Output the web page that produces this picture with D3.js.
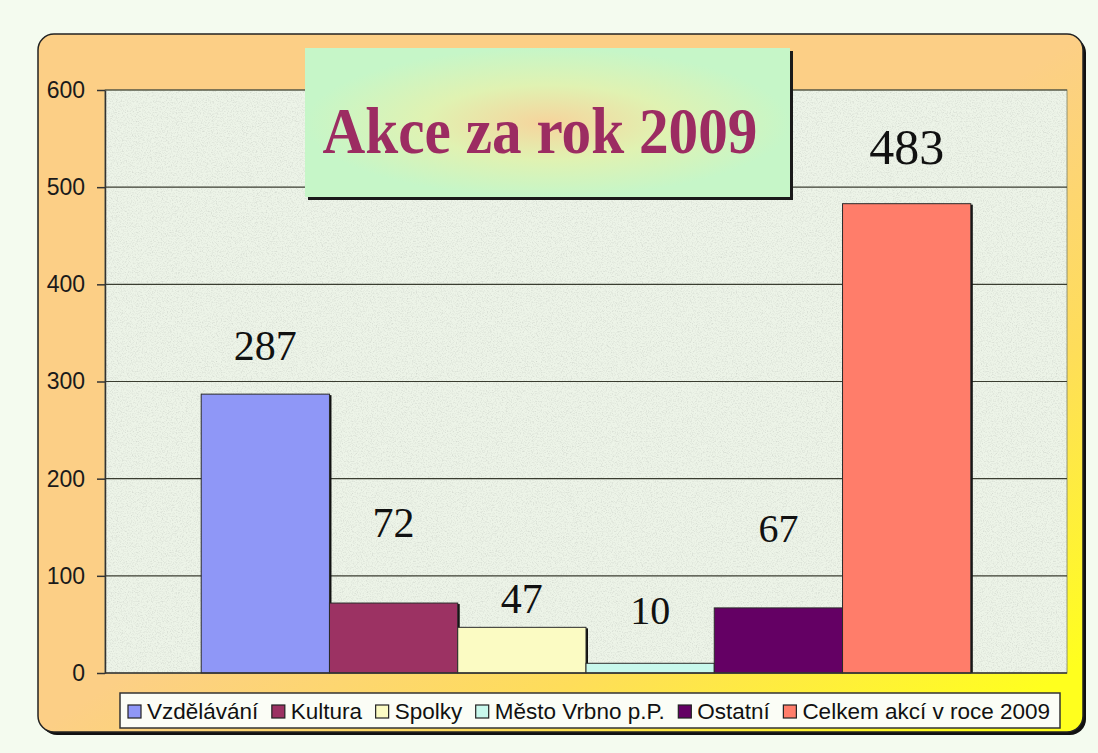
<!DOCTYPE html>
<html>
<head>
<meta charset="utf-8">
<script src="https://cdn.jsdelivr.net/npm/d3@7"></script>
<style>
  body { margin: 0; background: #f4fbef; }
  svg { display: block; }
</style>
</head>
<body>
<div id="chart"></div>
<script>
// data
var title = "Akce za rok 2009";
var categories = ["Vzdělávání", "Kultura", "Spolky", "Město Vrbno p.P.", "Ostatní", "Celkem akcí v roce 2009"];
var values = [287, 72, 47, 10, 67, 483];
var yTicks = [0, 100, 200, 300, 400, 500, 600];

var colors = ["#8f97f7", "#9c3263", "#fbfbc3", "#c8f8ec", "#640064", "#ff7d6a"];

var W = 1098, H = 753;
var plot = {left: 105, right: 1067, top: 90, bottom: 673};

var svg = d3.select("#chart").append("svg")
            .attr("width", W)
            .attr("height", H);

var defs = svg.append("defs");

// frame gradient: orange -> yellow toward bottom right
var fg = defs.append("linearGradient").attr("id", "frameGrad")
             .attr("x1", 0).attr("y1", 0).attr("x2", 1).attr("y2", 1);
fg.append("stop").attr("offset", "0.5").attr("stop-color", "#fccf86");
fg.append("stop").attr("offset", "0.72").attr("stop-color", "#fedd5a");
fg.append("stop").attr("offset", "0.95").attr("stop-color", "#ffff1e");

var tg = defs.append("radialGradient").attr("id", "titleGrad")
             .attr("cx", 0.5).attr("cy", 0.5).attr("r", 0.5);
tg.append("stop").attr("offset", "0").attr("stop-color", "#f6d49c");
tg.append("stop").attr("offset", "0.5").attr("stop-color", "#e0f2b2");
tg.append("stop").attr("offset", "1").attr("stop-color", "#c6f6c8");

// speckled paper texture for the plot area
var noise = defs.append("filter").attr("id", "noise")
                .attr("x", 0).attr("y", 0).attr("width", "100%").attr("height", "100%");
noise.append("feTurbulence").attr("type", "fractalNoise")
     .attr("baseFrequency", 0.8).attr("numOctaves", 3).attr("seed", 7);
noise.append("feColorMatrix").attr("type", "matrix")
     .attr("values", "0 0 0 0 0.6  0 0 0 0 0.64  0 0 0 0 0.58  1.6 0 0 0 -0.72");

// outer frame with shadow
svg.append("rect")
   .attr("x", 41).attr("y", 37).attr("width", 1045).attr("height", 698)
   .attr("rx", 16).attr("fill", "#111");
svg.append("rect")
   .attr("x", 38).attr("y", 34).attr("width", 1045).attr("height", 698)
   .attr("rx", 16).attr("fill", "url(#frameGrad)")
   .attr("stroke", "#222").attr("stroke-width", 1.5);

// plot area
svg.append("rect")
   .attr("x", plot.left).attr("y", plot.top)
   .attr("width", plot.right - plot.left).attr("height", plot.bottom - plot.top)
   .attr("fill", "#edf4e8")
   .attr("stroke", "#8c8f70").attr("stroke-width", 1);
svg.append("rect")
   .attr("x", plot.left).attr("y", plot.top)
   .attr("width", plot.right - plot.left).attr("height", plot.bottom - plot.top)
   .attr("filter", "url(#noise)");

var y = d3.scaleLinear()
          .domain([0, 600])
          .range([plot.bottom, plot.top]);

var x0 = d3.scaleBand()
           .domain(["2009"])
           .range([plot.left, plot.right])
           .paddingInner(0)
           .paddingOuter(0.125);

var x = d3.scaleBand()
          .domain(categories)
          .range([x0("2009"), x0("2009") + x0.bandwidth()]);

// gridlines
svg.append("g").selectAll("line")
   .data(yTicks.filter(function(d) { return d > 0; }))
   .enter()
   .append("line")
   .attr("x1", plot.left).attr("x2", plot.right)
   .attr("y1", function(d) { return y(d); })
   .attr("y2", function(d) { return y(d); })
   .attr("stroke", "#3a3d30").attr("stroke-width", 1.2);

// bars: shadows first, then bars
svg.append("g").selectAll("rect")
   .data(values)
   .enter()
   .append("rect")
   .attr("x", function(d, i) { return x(categories[i]) + 2; })
   .attr("y", function(d) { return y(d) + 1; })
   .attr("width", x.bandwidth())
   .attr("height", function(d) { return plot.bottom - y(d) - 1; })
   .attr("fill", "#111");

svg.append("g").selectAll("rect")
   .data(values)
   .enter()
   .append("rect")
   .attr("x", function(d, i) { return x(categories[i]); })
   .attr("y", function(d) { return y(d); })
   .attr("width", x.bandwidth())
   .attr("height", function(d) { return plot.bottom - y(d); })
   .attr("fill", function(d, i) { return colors[i]; })
   .attr("stroke", "#2a2a2a").attr("stroke-width", 1);

// y axis
var yAxis = d3.axisLeft(y)
              .tickValues(yTicks)
              .tickSize(8)
              .tickSizeOuter(0)
              .tickPadding(12);

var ax = svg.append("g")
            .attr("transform", "translate(" + plot.left + ",0)")
            .call(yAxis);
ax.attr("font-size", null);
ax.select(".domain").attr("stroke", "#333").attr("stroke-width", 1.5);
ax.selectAll(".tick line").attr("stroke", "#333").attr("stroke-width", 1.5);
ax.selectAll(".tick text")
  .attr("font-family", "'Liberation Sans', Arial, sans-serif")
  .attr("font-size", 23)
  .attr("fill", "#1a1a1a");

svg.append("line")
   .attr("x1", plot.left).attr("x2", plot.right)
   .attr("y1", y(0)).attr("y2", y(0))
   .attr("stroke", "#333").attr("stroke-width", 1.5);

// value labels, hand placed in the original
var labelLift = [48, 80, 28, 52, 79, 56];
var labelSize = [42, 42, 42, 40, 40, 50];
svg.append("g").selectAll("text")
   .data(values)
   .enter()
   .append("text")
   .attr("x", function(d, i) { return x(categories[i]) + x.bandwidth() / 2; })
   .attr("y", function(d, i) { return y(d) - labelLift[i] + labelSize[i] * 0.33; })
   .attr("text-anchor", "middle")
   .style("font-family", "'Liberation Serif', 'DejaVu Serif', serif")
   .style("font-size", function(d, i) { return labelSize[i] + "px"; })
   .style("font-variant-numeric", "oldstyle-nums")
   .attr("fill", "#111")
   .text(function(d) { return d; });

// title box
svg.append("rect")
   .attr("x", 308).attr("y", 51).attr("width", 485).attr("height", 149)
   .attr("fill", "#1a1a1a");
svg.append("rect")
   .attr("x", 305).attr("y", 48).attr("width", 485).attr("height", 149)
   .attr("fill", "url(#titleGrad)");
svg.append("text")
   .attr("x", 540).attr("y", 153)
   .attr("text-anchor", "middle")
   .attr("textLength", 435)
   .attr("lengthAdjust", "spacingAndGlyphs")
   .style("font-family", "'Liberation Serif', 'DejaVu Serif', serif")
   .style("font-weight", "bold")
   .style("font-size", "66px")
   .attr("fill", "#9c2c62")
   .text(title);

// legend
var legend = svg.append("g");
legend.append("rect")
      .attr("x", 120).attr("y", 693).attr("width", 940).attr("height", 35)
      .attr("fill", "#fbfdf6")
      .attr("stroke", "#333").attr("stroke-width", 1.5);

var items = legend.selectAll("g.item")
                  .data(categories)
                  .enter()
                  .append("g")
                  .attr("class", "item");
items.append("rect")
     .attr("width", 13).attr("height", 13)
     .attr("y", 705)
     .attr("fill", function(d, i) { return colors[i]; })
     .attr("stroke", "#222").attr("stroke-width", 1.2);
items.append("text")
     .attr("y", 719)
     .style("font-family", "'Liberation Sans', Arial, sans-serif")
     .style("font-size", "22.5px")
     .attr("fill", "#111")
     .text(function(d) { return d; });

var widths = [];
items.select("text").each(function() { widths.push(this.getComputedTextLength()); });
var total = d3.sum(widths) + categories.length * 19;
var gap = (1050 - 128 - total) / (categories.length - 1);
var cx = 128;
items.each(function(d, i) {
  var g = d3.select(this);
  g.select("rect").attr("x", cx);
  g.select("text").attr("x", cx + 19);
  cx += 19 + widths[i] + gap;
});
</script>
</body>
</html>
